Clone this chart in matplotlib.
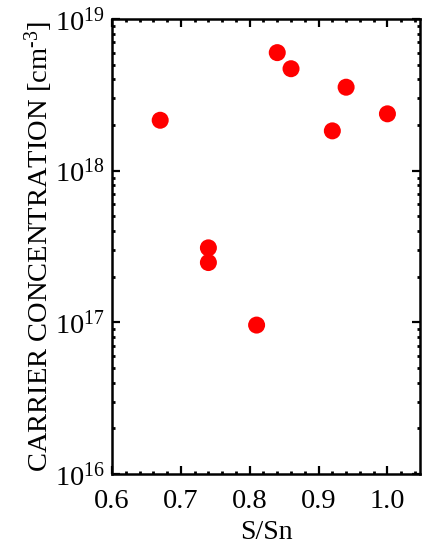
import matplotlib
matplotlib.use('Agg')
import matplotlib.pyplot as plt
from matplotlib.ticker import MultipleLocator, LogLocator, LogFormatterMathtext, NullFormatter

plt.rcParams['font.family'] = 'Liberation Serif'
plt.rcParams['mathtext.fontset'] = 'custom'
plt.rcParams['mathtext.rm'] = 'Liberation Serif'
plt.rcParams['mathtext.it'] = 'Liberation Serif:italic'

# S/Sn ratio and carrier concentration (cm^-3)
s_sn = [0.67, 0.74, 0.74, 0.81, 0.84, 0.86, 0.92, 0.94, 1.00]
carrier = [2.15e18, 3.1e17, 2.48e17, 9.6e16, 6.0e18, 4.7e18, 1.83e18, 3.55e18, 2.37e18]

fig = plt.figure(figsize=(4.22, 5.5), dpi=100)
ax = fig.add_axes([0.2654, 0.138, 0.731, 0.8275])

ax.scatter(s_sn, carrier, s=150, color='red', edgecolors='none', zorder=3)

ax.set_yscale('log')
ax.set_xlim(0.6, 1.048)
ax.set_ylim(1e16, 1e19)

ax.xaxis.set_major_locator(MultipleLocator(0.1))
ax.xaxis.set_minor_locator(MultipleLocator(0.02))
ax.xaxis.set_major_formatter(plt.FuncFormatter(lambda v, p: '%.1f' % v))
ax.yaxis.set_major_locator(LogLocator(base=10))
ax.yaxis.set_minor_locator(LogLocator(base=10, subs=range(2, 10)))
ax.yaxis.set_major_formatter(LogFormatterMathtext())
ax.yaxis.set_minor_formatter(NullFormatter())

ax.tick_params(which='both', direction='in', top=True, right=True, labelsize=20.5, width=1.6)
ax.tick_params(axis='x', which='major', pad=11)
ax.tick_params(axis='y', which='major', pad=5)
ax.tick_params(which='major', length=6)
ax.tick_params(which='minor', length=2.5, width=2)
for sp in ax.spines.values():
    sp.set_linewidth(1.8)

ax.set_xlabel('S/Sn', fontsize=20, labelpad=4)
ax.set_ylabel('CARRIER CONCENTRATION [cm$^{\\text{-3}}$]', fontsize=20.5, labelpad=0)

fig.savefig('out.png', dpi=100)
